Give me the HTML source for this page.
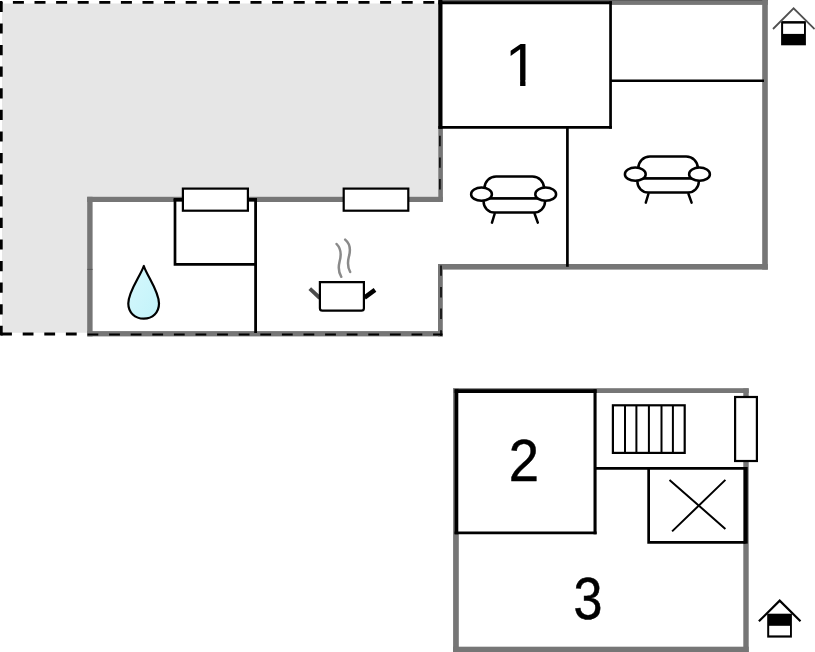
<!DOCTYPE html>
<html>
<head>
<meta charset="utf-8">
<title>Floor plan</title>
<style>
html,body{margin:0;padding:0;background:#fff;}
body{width:815px;height:652px;overflow:hidden;font-family:"Liberation Sans",sans-serif;}
svg{display:block;}
text{font-family:"Liberation Sans",sans-serif;fill:#000;}
</style>
</head>
<body>
<svg width="815" height="652" viewBox="0 0 815 652">
<defs>
<linearGradient id="drop" x1="0" y1="0" x2="1" y2="1">
<stop offset="0" stop-color="#d6f8fc"/><stop offset="1" stop-color="#c2f3fa"/>
</linearGradient>
<g id="sofa" fill="#fff" stroke="#000" stroke-width="2.5" stroke-linecap="round" stroke-linejoin="round">
<path d="M484.5,198.6 V188 A11.6,11.6 0 0 1 496.1,176.4 H532.4 A11.6,11.6 0 0 1 544,188 V198.6 Z"/>
<path d="M483.6,198.6 H545 V201.8 A10.8,10.8 0 0 1 534.2,212.6 H494.4 A10.8,10.8 0 0 1 483.6,201.8 Z"/>
<ellipse cx="481.5" cy="194.2" rx="10.4" ry="6.6"/>
<ellipse cx="545.7" cy="194.2" rx="10.4" ry="6.6"/>
<path d="M494.6,214 L492,222.6 M534.7,214 L537.8,222.6" fill="none"/>
</g>
<clipPath id="one"><path d="M500,36 H545 V80.3 H525.47 V88 H520.11 V80.3 H500 Z"/></clipPath>
</defs>
<rect width="815" height="652" fill="#fff"/>
<!-- terrace -->
<path d="M2,3.6 H439 V199 H90 V332.8 H2 Z" fill="#e6e6e6"/>
<!-- terrace dashed outline -->
<g stroke="#000" fill="none">
<line x1="1.2" y1="1.8" x2="1.2" y2="335.5" stroke-width="3" stroke-dasharray="10.2 11.4"/>
<line x1="-8.7" y1="2.4" x2="437" y2="2.4" stroke-width="2.7" stroke-dasharray="11 10.6"/>
<line x1="1.1" y1="334" x2="87.4" y2="334" stroke-width="3" stroke-dasharray="10.8 10.8"/>
</g>
<!-- upper plan walls -->
<g fill="#767676">
<rect x="438.4" y="0" width="329.4" height="4.9"/>
<rect x="438.4" y="0" width="329.4" height="1" fill="#5e5e5e"/>
<rect x="762.2" y="0" width="5.6" height="269.6"/>
<rect x="438" y="264" width="329.8" height="5.6"/>
<rect x="438" y="264" width="4.8" height="72.4"/>
<rect x="87.4" y="331.1" width="355.4" height="5.3"/>
<rect x="87.2" y="196.8" width="5.4" height="139.6"/>
<rect x="87.2" y="196.8" width="355.6" height="5.2"/>
<rect x="438.3" y="0" width="4.6" height="201.6"/>
</g>
<!-- dashes over walls -->
<g stroke="#000" fill="none">
<line x1="87.5" y1="334.4" x2="442.5" y2="334.4" stroke-width="2.0" stroke-dasharray="10.8 10.8"/>
<line x1="439.9" y1="135.8" x2="439.9" y2="199" stroke-width="1.5" stroke-dasharray="10.4 11.2"/>
<line x1="441" y1="265.4" x2="441" y2="336" stroke-width="1.5" stroke-dasharray="10.4 11.2"/>
</g>
<rect x="87.2" y="268.9" width="5.4" height="0.9" fill="#555"/>
<!-- upper plan black lines -->
<g stroke="#000" fill="none">
<rect x="440.5" y="2.7" width="170" height="124.7" stroke="none" fill="#fff"/>
<path d="M440.45,0 V128.7" stroke-width="4.1"/><path d="M438.4,2.7 H611.9" stroke-width="3"/><path d="M610.55,1.2 V128.7" stroke-width="2.7"/><path d="M438.4,127.4 H611.9" stroke-width="2.6"/>
<line x1="611" y1="80.8" x2="764" y2="80.8" stroke-width="2.4"/>
<line x1="567.4" y1="128" x2="567.4" y2="266.8" stroke-width="2.7"/>
<line x1="255.6" y1="199" x2="255.6" y2="333" stroke-width="2.8"/>
<path d="M173.6,199.6 H257" stroke-width="3.2"/><path d="M175,199 V264.4 H255.6" stroke-width="2.7"/>
<rect x="182.9" y="188.6" width="65" height="22.1" stroke-width="2.2" fill="#fff"/>
<rect x="343.7" y="188.6" width="64.6" height="22.1" stroke-width="2.2" fill="#fff"/>
</g>
<!-- water drop -->
<path d="M143.8,266 C140.5,276 128.3,291 128.3,303.5 C128.3,312.5 135,318.6 143.8,318.6 C152.6,318.6 159,312.5 159,303.5 C159,291 147,276 143.8,266 Z" fill="url(#drop)" stroke="#000" stroke-width="2.2" stroke-linejoin="round"/>
<!-- pot -->
<g fill="none" stroke-linecap="round">
<path d="M336.6,244 C341.5,249 341.5,255 339.5,262 C338,268 339,273 341.3,276.8" stroke="#8a8a8a" stroke-width="2.5"/>
<path d="M345.2,239.6 C350.5,244 350.8,250 348.8,257 C347.3,263 348,268 350.2,272" stroke="#8a8a8a" stroke-width="2.5"/>
</g>
<line x1="309.8" y1="288.6" x2="319.8" y2="298" stroke="#4c4c4c" stroke-width="3.9"/>
<line x1="364.5" y1="297.6" x2="375" y2="289.9" stroke="#000" stroke-width="4.5"/>
<path d="M319.9,282.2 H363.9 V308.2 Q363.9,310.7 361.4,310.7 H322.4 Q319.9,310.7 319.9,308.2 Z" fill="#fff" stroke="#000" stroke-width="2.2"/>
<!-- sofas -->
<use href="#sofa"/>
<use href="#sofa" transform="translate(153.8,-20)"/>
<!-- house icon top -->
<g>
<rect x="781.1" y="21.1" width="24.8" height="24.2" fill="#000"/>
<rect x="783.1" y="23.6" width="20.9" height="10.3" fill="#fff"/>
<path d="M773,29 L793.6,8.3 L814.6,29" fill="none" stroke="#505050" stroke-width="1.8" stroke-linecap="butt"/>
</g>
<!-- lower plan walls -->
<g fill="#767676">
<rect x="453.1" y="388.2" width="295.6" height="4.8"/>
<rect x="453.1" y="388.4" width="5.7" height="263.6"/>
<rect x="743.3" y="388.4" width="5.4" height="263.6"/>
<rect x="453.1" y="646.7" width="295.6" height="5.3"/>
</g>
<g stroke="#000" fill="none">
<rect x="456" y="391" width="139" height="141.8" stroke="none" fill="#fff"/>
<path d="M456.45,389.2 V534.3" stroke-width="3.7"/><path d="M454.6,391.15 H596.6" stroke-width="3.7"/><path d="M595.05,389.3 V534.3" stroke-width="3.1"/><path d="M454.6,532.9 H596.6" stroke-width="2.8"/>
<line x1="596" y1="468.3" x2="745" y2="468.3" stroke-width="2.7"/>
<path d="M648.65,468.3 V542.3 H745.6" stroke-width="2.7"/><path d="M745.65,467 V543.65" stroke-width="4.1"/>
<path d="M669.5,479.9 L725.4,528.9 M725.4,479.9 L672.1,531.4" stroke-width="2"/>
<rect x="612.9" y="405.3" width="71.8" height="47.6" stroke-width="2.2" fill="#fff"/>
<path d="M625,405.3 V453 M636.4,405.3 V453 M648.9,405.3 V453 M661.5,405.3 V453 M672.9,405.3 V453" stroke-width="2"/>
<rect x="735.1" y="397" width="21.8" height="64" stroke-width="2.2" fill="#fff"/>
</g>
<!-- numbers -->
<g clip-path="url(#one)"><text x="0" y="0" font-size="61" text-anchor="middle" transform="translate(521.75,85.6)">1</text></g>
<text x="0" y="0" font-size="59.2" text-anchor="middle" transform="translate(524,480.6) scale(0.92,1)" stroke="#000" stroke-width="0.5">2</text>
<text x="0" y="0" font-size="59.2" text-anchor="middle" transform="translate(587.9,619) scale(0.88,1)" stroke="#000" stroke-width="0.5">3</text>
<!-- house icon bottom -->
<g>
<rect x="767.2" y="613.7" width="24.7" height="23.9" fill="#000"/>
<rect x="769.2" y="625.8" width="20.8" height="9.6" fill="#fff"/>
<path d="M758.9,621.3 L779.7,600.6 L800.5,621.3" fill="none" stroke="#000" stroke-width="2.2"/>
</g>
</svg>
</body>
</html>
